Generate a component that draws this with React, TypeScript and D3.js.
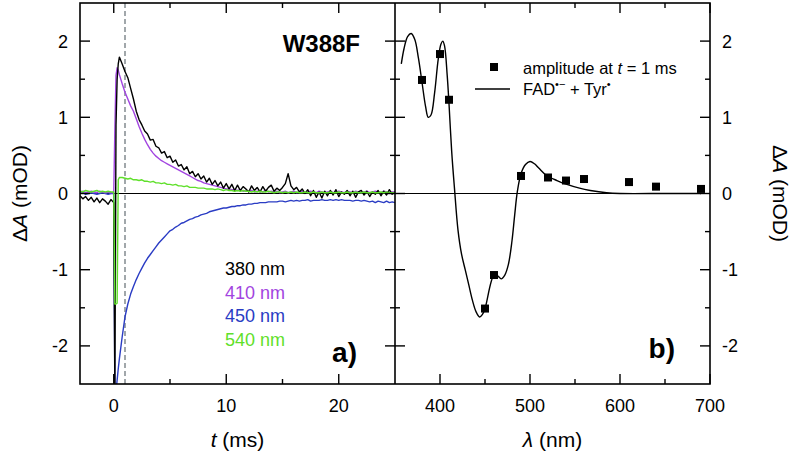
import * as d3 from "d3";

// sample times (ms) of the transient traces
const TIMES = [
  -3, -2.75, -2.5, -2.25, -2, -1.75, -1.5, -1.25, -1, -0.75, -0.5, -0.25, 0,
  0.1, 0.2, 0.3, 0.4, 0.5, 0.75,
  1, 1.25, 1.5, 1.75, 2, 2.25, 2.5, 2.75, 3, 3.25, 3.5, 3.75,
  4, 4.25, 4.5, 4.75, 5, 5.25, 5.5, 5.75, 6, 6.25, 6.5, 6.75,
  7, 7.25, 7.5, 7.75, 8, 8.25, 8.5, 8.75, 9, 9.25, 9.5, 9.75,
  10, 10.25, 10.5, 10.75, 11, 11.25, 11.5, 11.75, 12, 12.25, 12.5, 12.75,
  13, 13.25, 13.5, 13.75, 14, 14.25, 14.5, 14.75, 15, 15.25, 15.5, 15.75,
  16, 16.25, 16.5, 16.75, 17, 17.25, 17.5, 17.75, 18, 18.25, 18.5, 18.75,
  19, 19.25, 19.5, 19.75, 20, 20.25, 20.5, 20.75, 21, 21.25, 21.5, 21.75,
  22, 22.25, 22.5, 22.75, 23, 23.25, 23.5, 23.75, 24, 24.25, 24.5, 24.75,
  25,
];

// ΔA (mOD) at 380 nm
const TRACE_380 = [
  -0.03, -0.07, -0.04, -0.09, -0.05, -0.11, -0.06, -0.12, -0.07, -0.1, -0.14, -0.08, -0.12,
  -2.6, 0.9, 1.5, 1.7, 1.79, 1.7,
  1.6, 1.52, 1.38, 1.24, 1.08, 0.97, 0.9, 0.82, 0.78, 0.7, 0.71, 0.62,
  0.6, 0.53, 0.55, 0.47, 0.49, 0.41, 0.44, 0.36, 0.38, 0.31, 0.35, 0.26,
  0.29, 0.22, 0.26, 0.19, 0.23, 0.15, 0.2, 0.12, 0.17, 0.1, 0.15, 0.07,
  0.13, 0.06, 0.12, 0.04, 0.11, 0.04, 0.09, 0.06, 0.02, 0.1, 0.04, 0.08,
  0.02, 0.09, 0.03, 0.08, 0.11, 0.03, 0.07, 0.04, 0.08, 0.13, 0.26, 0.1,
  0.05, 0.08, 0.02, 0.06, 0.0, 0.05, -0.03, 0.04, -0.05, 0.02, -0.06, 0.03,
  -0.03, 0.04, -0.02, 0.05, -0.04, 0.02, -0.01, 0.04, -0.03, 0.03, -0.05, 0.02,
  0.04, -0.02, 0.03, -0.04, 0.02, -0.01, 0.04, -0.03, 0.03, -0.02, 0.05, -0.01,
  0.02,
];

// ΔA (mOD) at 410 nm
const TRACE_410 = [
  0.02, 0.03, 0.01, 0.02, 0.03, 0.02, 0.01, 0.03, 0.02, 0.01, 0.02, 0.01, 0.01,
  0.85, 1.55, 1.65, 1.62, 1.56, 1.44,
  1.33, 1.24, 1.15, 1.08, 0.98, 0.88, 0.79, 0.71, 0.64, 0.58, 0.53, 0.49,
  0.46, 0.43, 0.41, 0.39, 0.37, 0.35, 0.33, 0.31, 0.29, 0.27, 0.25, 0.23,
  0.21, 0.19, 0.17, 0.16, 0.14, 0.13, 0.12, 0.11, 0.1, 0.09, 0.08, 0.07,
  0.06, 0.06, 0.05, 0.05, 0.04, 0.05, 0.03, 0.04, 0.03, 0.04, 0.02, 0.03,
  0.03, 0.02, 0.04, 0.02, 0.03, 0.02, 0.03, 0.01, 0.02, 0.03, 0.01, 0.02,
  0.03, 0.01, 0.02, 0.03, 0.01, 0.02, 0.03, 0.02, 0.01, 0.03, 0.02, 0.01,
  0.02, 0.03, 0.01, 0.02, 0.03, 0.02, 0.01, 0.03, 0.02, 0.01, 0.03, 0.02,
  0.01, 0.02, 0.03, 0.01, 0.02, 0.03, 0.02, 0.01, 0.03, 0.02, 0.01, 0.02,
  0.02,
];

// ΔA (mOD) at 450 nm
const TRACE_450 = [
  0.0, 0.01, -0.01, 0.0, 0.01, 0.0, -0.01, 0.0, 0.01, 0.0, -0.01, 0.0, 0.0,
  -2.7, -2.6, -2.45, -2.3, -2.17, -1.88,
  -1.62, -1.45, -1.32, -1.22, -1.13, -1.05, -0.98, -0.91, -0.85, -0.8, -0.75, -0.7,
  -0.65, -0.61, -0.57, -0.53, -0.49, -0.47, -0.44, -0.42, -0.39, -0.38, -0.36, -0.34,
  -0.33, -0.31, -0.3, -0.28, -0.27, -0.26, -0.24, -0.23, -0.22, -0.21, -0.2, -0.19,
  -0.19, -0.18, -0.17, -0.17, -0.16, -0.16, -0.15, -0.15, -0.14, -0.14, -0.13, -0.13,
  -0.12, -0.12, -0.12, -0.11, -0.11, -0.11, -0.11, -0.1, -0.1, -0.11, -0.1, -0.09,
  -0.1, -0.09, -0.1, -0.09, -0.09, -0.08, -0.1, -0.09, -0.09, -0.09, -0.08, -0.09,
  -0.09, -0.08, -0.09, -0.08, -0.09, -0.08, -0.09, -0.09, -0.09, -0.1, -0.09, -0.09,
  -0.1, -0.09, -0.1, -0.11, -0.1, -0.12, -0.1, -0.11, -0.12, -0.1, -0.12, -0.11,
  -0.12,
];

// ΔA (mOD) at 540 nm
const TRACE_540 = [
  0.03, 0.02, 0.04, 0.03, 0.02, 0.03, 0.04, 0.02, 0.03, 0.02, 0.03, 0.02, 0.02,
  -1.45, -1.45, -1.44, 0.18, 0.21, 0.21,
  0.2, 0.19, 0.2, 0.18, 0.18, 0.17, 0.18, 0.16, 0.16, 0.15, 0.16, 0.14,
  0.14, 0.13, 0.14, 0.12, 0.12, 0.11, 0.12, 0.1, 0.1, 0.09, 0.1, 0.08,
  0.08, 0.08, 0.07, 0.07, 0.07, 0.06, 0.06, 0.06, 0.05, 0.06, 0.05, 0.04,
  0.05, 0.04, 0.04, 0.03, 0.04, 0.03, 0.04, 0.03, 0.03, 0.02, 0.03, 0.02,
  0.03, 0.02, 0.02, 0.03, 0.02, 0.01, 0.02, 0.02, 0.01, 0.02, 0.01, 0.02,
  0.01, 0.02, 0.01, 0.01, 0.02, 0.01, 0.01, 0.02, 0.01, 0.01, 0.02, 0.01,
  0.01, 0.02, 0.01, 0.01, 0.02, 0.01, 0.01, 0.02, 0.01, 0.01, 0.02, 0.01,
  0.01, 0.02, 0.01, 0.01, 0.02, 0.01, 0.01, 0.02, 0.01, 0.02, 0.01, 0.01,
  0.01,
];

const TRACE_LABELS = ["380 nm", "410 nm", "450 nm", "540 nm"];
const TRACE_COLORS = ["#000000", "#a244e0", "#2a3cc4", "#5fe02a"];
// drawing order: 450, 410, 380, 540
const DRAW_ORDER = [2, 1, 0, 3];

const MARK_TIME = 1; // dashed line at t = 1 ms

// spectrum FAD•− + Tyr•
const SPEC_WL = [
  357, 360, 364, 368, 372, 376, 380, 384, 387, 390, 394, 398, 401, 403, 405, 408,
  410, 413, 416, 420, 424, 428, 432, 436, 440, 444, 447, 450, 460, 464, 468, 472,
  476, 480, 483, 486, 490, 495, 500, 505, 510, 518, 530, 541, 555, 567, 585, 600,
  650, 690,
];
const SPEC_VAL = [
  1.7, 1.9, 2.06, 2.1, 2.02, 1.78, 1.46, 1.14, 1.0, 1.03, 1.32, 1.76, 1.96, 2.0, 1.94, 1.55,
  1.18, 0.55, 0.08, -0.48, -0.8, -1.0, -1.2, -1.4, -1.55, -1.62, -1.59, -1.51, -1.07, -1.08, -1.12, -1.07,
  -0.93, -0.62, -0.28, 0.03, 0.26, 0.38, 0.42, 0.39, 0.33, 0.24, 0.17, 0.12, 0.07, 0.04, 0.01, 0.0,
  0.0, 0.0,
];

// amplitude at t = 1 ms
const AMP_WL = [380, 400, 410, 450, 460, 490, 520, 540, 560, 610, 640, 690];
const AMP_VAL = [1.49, 1.83, 1.23, -1.51, -1.07, 0.23, 0.21, 0.17, 0.19, 0.15, 0.09, 0.06];

const T_TICKS = [0, 5, 10, 15, 20];
const T_LABELS = [0, 10, 20];
const WL_TICKS = [400, 450, 500, 550, 600, 650, 700];
const WL_LABELS = [400, 500, 600, 700];
const Y_TICKS = [-2, -1.5, -1, -0.5, 0, 0.5, 1, 1.5, 2];
const Y_LABELS = [-2, -1, 0, 1, 2];

const W = 793;
const H = 457;
const FONT = "Arial, 'Liberation Sans', Helvetica, sans-serif";
const TOP = 3;
const BOTTOM = 384;
const LEFT = 80;
const MID = 395;
const RIGHT = 710;

export default function App() {
  const xT = d3.scaleLinear().domain([-3, 25]).range([LEFT, MID]);
  const xW = d3.scaleLinear().domain([350, 700]).range([MID, RIGHT]);
  const y = d3.scaleLinear().domain([-2.5, 2.5]).range([BOTTOM, TOP]);

  const traceLine = (vals: number[]) =>
    d3
      .line<number>()
      .x((_, i) => xT(TIMES[i]))
      .y((v) => y(v))(vals.slice(0, TIMES.length)) || "";

  const traces = [TRACE_380, TRACE_410, TRACE_450, TRACE_540];

  const specPath =
    d3
      .line<number>()
      .x((_, i) => xW(SPEC_WL[i]))
      .y((v) => y(v))
      .curve(d3.curveCatmullRom.alpha(0.5))(SPEC_VAL) || "";

  const isMajorY = (v: number) => Y_LABELS.includes(v);

  return (
    <svg
      width={W}
      height={H}
      style={{ position: "absolute", left: 0, top: 0, background: "#fff" }}
      fontFamily={FONT}
    >
      <defs>
        <clipPath id="clip-a">
          <rect x={LEFT} y={TOP} width={MID - LEFT} height={BOTTOM - TOP} />
        </clipPath>
        <clipPath id="clip-b">
          <rect x={MID} y={TOP} width={RIGHT - MID} height={BOTTOM - TOP} />
        </clipPath>
      </defs>
      <rect x={0} y={0} width={W} height={H} fill="#fff" />

      {/* ===== panel a ===== */}
      <g clipPath="url(#clip-a)">
        <line x1={LEFT} x2={MID} y1={y(0)} y2={y(0)} stroke="#000" strokeWidth={1.2} />
        <line
          x1={xT(MARK_TIME)}
          x2={xT(MARK_TIME)}
          y1={TOP}
          y2={BOTTOM}
          stroke="#8a9296"
          strokeWidth={1.6}
          strokeDasharray="5,3"
        />
        {DRAW_ORDER.map((k) => (
          <path
            key={k}
            d={traceLine(traces[k])}
            fill="none"
            stroke={TRACE_COLORS[k]}
            strokeWidth={1.4}
            strokeLinejoin="round"
          />
        ))}
      </g>

      {/* ===== panel b ===== */}
      <g clipPath="url(#clip-b)">
        <line x1={MID} x2={RIGHT} y1={y(0)} y2={y(0)} stroke="#000" strokeWidth={1.2} />
        <path d={specPath} fill="none" stroke="#000" strokeWidth={1.4} />
        {AMP_WL.map((w, i) => (
          <rect
            key={w}
            x={xW(w) - 4}
            y={y(AMP_VAL[i]) - 4}
            width={8}
            height={8}
            fill="#000"
          />
        ))}
      </g>

      {/* ===== frames ===== */}
      <rect
        x={LEFT}
        y={TOP}
        width={RIGHT - LEFT}
        height={BOTTOM - TOP}
        fill="none"
        stroke="#000"
        strokeWidth={1.6}
      />
      <line x1={MID} x2={MID} y1={TOP} y2={BOTTOM} stroke="#000" strokeWidth={1.6} />

      {/* x ticks panel a */}
      {T_TICKS.map((t) => {
        const len = T_LABELS.includes(t) ? 10 : 5;
        return (
          <g key={`ta${t}`} stroke="#000" strokeWidth={1.4}>
            <line x1={xT(t)} x2={xT(t)} y1={BOTTOM} y2={BOTTOM - len} />
            <line x1={xT(t)} x2={xT(t)} y1={TOP} y2={TOP + len} />
          </g>
        );
      })}
      {T_LABELS.map((t) => (
        <text key={`tl${t}`} x={xT(t)} y={412} fontSize={18} textAnchor="middle">
          {t}
        </text>
      ))}

      {/* x ticks panel b */}
      {WL_TICKS.map((w) => {
        const len = WL_LABELS.includes(w) ? 10 : 5;
        return (
          <g key={`tb${w}`} stroke="#000" strokeWidth={1.4}>
            <line x1={xW(w)} x2={xW(w)} y1={BOTTOM} y2={BOTTOM - len} />
            <line x1={xW(w)} x2={xW(w)} y1={TOP} y2={TOP + len} />
          </g>
        );
      })}
      {WL_LABELS.map((w) => (
        <text key={`wl${w}`} x={xW(w)} y={412} fontSize={18} textAnchor="middle">
          {w}
        </text>
      ))}

      {/* y ticks */}
      {Y_TICKS.map((v) => {
        const len = isMajorY(v) ? 10 : 5;
        return (
          <g key={`y${v}`} stroke="#000" strokeWidth={1.4}>
            <line x1={LEFT} x2={LEFT + len} y1={y(v)} y2={y(v)} />
            <line x1={MID - len} x2={MID + len} y1={y(v)} y2={y(v)} />
            <line x1={RIGHT - len} x2={RIGHT} y1={y(v)} y2={y(v)} />
          </g>
        );
      })}
      {Y_LABELS.map((v) => (
        <g key={`yl${v}`}>
          <text x={68} y={y(v) + 6.5} fontSize={18} textAnchor="end">
            {v}
          </text>
          <text x={722} y={y(v) + 6.5} fontSize={18} textAnchor="start">
            {v}
          </text>
        </g>
      ))}

      {/* axis titles */}
      <text x={(LEFT + MID) / 2} y={447} fontSize={21} textAnchor="middle">
        <tspan fontStyle="italic">t</tspan> (ms)
      </text>
      <text x={(MID + RIGHT) / 2} y={447} fontSize={21} textAnchor="middle">
        <tspan fontStyle="italic">λ</tspan> (nm)
      </text>
      <text
        transform={`translate(27,${y(0)}) rotate(-90)`}
        fontSize={21}
        textAnchor="middle"
      >
        Δ<tspan fontStyle="italic">A</tspan> (mOD)
      </text>
      <text
        transform={`translate(773,${y(0)}) rotate(90)`}
        fontSize={21}
        textAnchor="middle"
      >
        Δ<tspan fontStyle="italic">A</tspan> (mOD)
      </text>

      {/* panel a annotations */}
      <text x={360} y={52} fontSize={24} fontWeight="bold" textAnchor="end">
        W388F
      </text>
      {TRACE_LABELS.map((lab, i) => (
        <text key={lab} x={225} y={275 + i * 23.5} fontSize={18} fill={TRACE_COLORS[i]}>
          {lab}
        </text>
      ))}
      <text x={357} y={362} fontSize={28} fontWeight="bold" textAnchor="end">
        a)
      </text>

      {/* panel b annotations */}
      <rect x={490} y={63} width={8} height={8} fill="#000" />
      <text x={523} y={74} fontSize={16.5}>
        amplitude at <tspan fontStyle="italic">t</tspan> = 1 ms
      </text>
      <line x1={475} x2={510} y1={89} y2={89} stroke="#000" strokeWidth={1.4} />
      <text x={523} y={95} fontSize={16.5}>
        FAD
        <tspan fontSize={11} dy={-7}>
          •−
        </tspan>
        <tspan dy={7}> + Tyr</tspan>
        <tspan fontSize={11} dy={-7}>
          •
        </tspan>
      </text>
      <text x={675} y={358} fontSize={28} fontWeight="bold" textAnchor="end">
        b)
      </text>
    </svg>
  );
}
